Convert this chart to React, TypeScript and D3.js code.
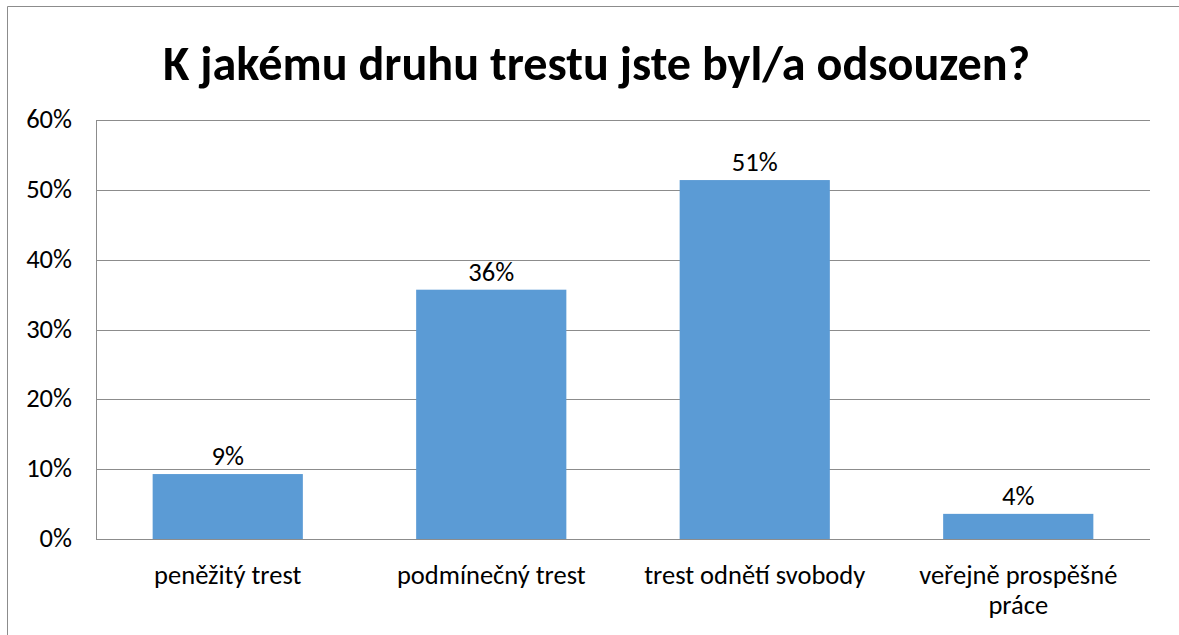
import {useEffect, useRef} from "react";
import * as d3 from 'd3'

const categories = [["peněžitý trest"], ["podmínečný trest"], ["trest odnětí svobody"], ["veřejně prospěšné", "práce"]]
const values = [0.093, 0.357, 0.514, 0.036]
const valueLabels = ["9%", "36%", "51%", "4%"]
const yTicks = [0, 0.1, 0.2, 0.3, 0.4, 0.5, 0.6]
const title = "K jakému druhu trestu jste byl/a odsouzen?"

const W = 1179
const H = 635
const FONT = "Carlito, Calibri, 'Open Sans', sans-serif"
const FS = 26
const SX = 1.02

const App = () => {
    const svgRef = useRef<SVGSVGElement>(null)

    useEffect(() => {
        document.body.style.margin = "0"
        const svg = d3.select(svgRef.current)
        svg.selectAll("*").remove()

        const left = 96, right = 1150, top = 120, bottom = 539

        // outer frame (left + top edges visible)
        svg.append("path")
            .attr("d", `M7.5,${H} L7.5,6.5 L${W},6.5`)
            .attr("fill", "none")
            .attr("stroke", "#8c8c8c")
            .attr("stroke-width", 1)

        svg.append("text")
            .attr("x", (163 + 1030) / 2)
            .attr("y", 80)
            .attr("text-anchor", "middle")
            .attr("font-family", FONT)
            .attr("font-weight", "bold")
            .attr("font-size", 49)
            .attr("textLength", 867)
            .attr("lengthAdjust", "spacingAndGlyphs")
            .attr("fill", "#000")
            .text(title)

        const x = d3.scaleBand<number>()
            .domain(d3.range(values.length))
            .range([left, right])
            .paddingInner(0.43)
            .paddingOuter(0.215)

        const y = d3.scaleLinear().domain([0, 0.6]).range([bottom, top])

        svg.append("g").selectAll("line")
            .data(yTicks)
            .join("line")
            .attr("x1", left)
            .attr("x2", right)
            .attr("y1", d => Math.round(y(d)) + 0.5)
            .attr("y2", d => Math.round(y(d)) + 0.5)
            .attr("stroke", "#8c8c8c")
            .attr("stroke-width", 1)

        svg.append("line")
            .attr("x1", left + 0.5).attr("x2", left + 0.5)
            .attr("y1", top).attr("y2", bottom)
            .attr("stroke", "#8c8c8c")

        svg.append("g").selectAll("text")
            .data(yTicks)
            .join("text")
            .attr("transform", d => `translate(72,${y(d) + 8}) scale(${SX},1)`)
            .attr("text-anchor", "end")
            .attr("font-family", FONT)
            .attr("font-size", FS)
            .attr("fill", "#000")
            .text(d => d3.format(".0%")(d))

        svg.append("g").selectAll("rect")
            .data(values)
            .join("rect")
            .attr("x", (d, i) => x(i)!)
            .attr("width", x.bandwidth())
            .attr("y", d => y(d))
            .attr("height", d => bottom - y(d))
            .attr("fill", "#5b9bd5")

        svg.append("g").selectAll("text")
            .data(values)
            .join("text")
            .attr("transform", (d, i) => `translate(${x(i)! + x.bandwidth() / 2},${y(d) - 9}) scale(${SX},1)`)
            .attr("text-anchor", "middle")
            .attr("font-family", FONT)
            .attr("font-size", FS)
            .attr("fill", "#000")
            .text((d, i) => valueLabels[i])

        const cat = svg.append("g").selectAll("text")
            .data(categories)
            .join("text")
            .attr("transform", (d, i) => `translate(${x(i)! + x.bandwidth() / 2},584) scale(${SX},1)`)
            .attr("text-anchor", "middle")
            .attr("font-family", FONT)
            .attr("font-size", FS)
            .attr("fill", "#000")
        cat.selectAll("tspan")
            .data(d => d)
            .join("tspan")
            .attr("x", 0)
            .attr("dy", (d, i) => i === 0 ? 0 : 30)
            .text(d => d)
    }, [])

    return (
        <svg ref={svgRef} width={W} height={H}
             style={{position: "absolute", left: 0, top: 0, background: "#fff"}}/>
    )
}

export default App
